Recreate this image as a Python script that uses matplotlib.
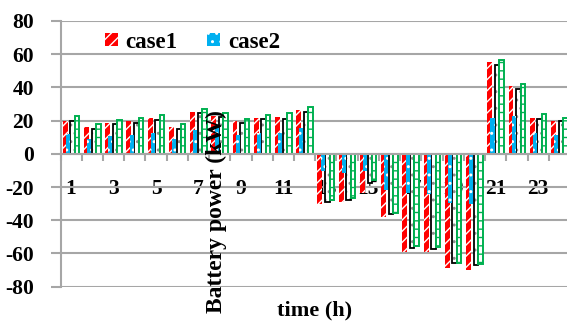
import matplotlib
matplotlib.use("Agg")
import matplotlib.pyplot as plt
import numpy as np

hours = list(range(1, 25))
case1 = [20, 16, 18.5, 19.8, 21.4, 15.9, 25.4, 23, 19.5, 21.7, 22.3, 26.4,
         -30.5, -29, -23.5, -38, -59, -59, -68.5, -70, 55.5, 40.8, 21.7, 19.9]
case2 = [12, 8.7, 10.7, 11.6, 12.6, 8.7, 14.2, 15.7, 11.3, 12.8, 12.8, 15.7,
         -10.6, -11.6, -10.6, -21.6, -23.6, -24.2, -29.6, -30.2, 21.5, 23, 12.7, 11.5]
case3 = [19.5, 15, 18, 18.8, 20.4, 15, 24.4, 22, 18.5, 20.8, 20.8, 25.4,
         -29, -28, -17.5, -36.5, -56.5, -57, -65.5, -67, 53.5, 39.2, 21, 19.5]
case4 = [22.5, 18, 20.4, 21.8, 23.4, 18, 27.3, 24.3, 21, 23.6, 24.3, 28.4,
         -27.5, -26.5, -15.6, -35.5, -55.5, -56, -65.5, -66.5, 56.8, 42, 23.7, 21.7]
xlabels = [str(h) if h % 2 == 1 else "" for h in hours]
yticks = [-80, -60, -40, -20, 0, 20, 40, 60, 80]

plt.rcParams['font.family'] = ['Liberation Serif', 'DejaVu Serif']
plt.rcParams['font.weight'] = 'bold'
plt.rcParams['hatch.linewidth'] = 1.0

W, H = 567, 322
fig = plt.figure(figsize=(W / 100, H / 100), dpi=100)
left, right, top, bottom = 60.5, 570, 21, 286.7
ax = fig.add_axes([left / W, 1 - bottom / H, (right - left) / W, (bottom - top) / H])

x = np.arange(len(hours))
gridc = '#A6A6A6'

ax.bar(x - 0.28, case1, width=0.23, color='#FF0000', edgecolor='white', linewidth=0,
       hatch='///', zorder=3, label='case1')
ax.bar(x - 0.15, case2, width=0.19, color='#00B0F0', edgecolor='white', linewidth=0,
       hatch='..', zorder=4, label='case2')
ax.bar(x + 0.07, case3, width=0.21, color='white', edgecolor='#8C8C8C', linewidth=0,
       hatch='..', zorder=3)
ax.bar(x + 0.07, case3, width=0.21, facecolor='none', edgecolor='black', linewidth=1.3,
       zorder=3)
ax.bar(x + 0.28, case4, width=0.21, color='white', edgecolor='#00B050', linewidth=1.4,
       hatch='--', zorder=3)

ax.set_xlim(-0.5, len(hours) - 0.5)
ax.set_ylim(-80, 80)
ax.set_yticks(yticks)
ax.set_yticklabels([str(v) for v in yticks], fontsize=15.5, fontweight='bold')
ax.yaxis.grid(True, color=gridc, linewidth=1.5, zorder=0)
ax.set_axisbelow(True)

for s in ['top', 'right']:
    ax.spines[s].set_visible(False)
ax.spines['left'].set_color(gridc)
ax.spines['left'].set_linewidth(1.5)
ax.spines['bottom'].set_position(('data', 0))
ax.spines['bottom'].set_color(gridc)
ax.spines['bottom'].set_linewidth(1.5)
ax.spines['bottom'].set_zorder(5)

ax.tick_params(axis='y', length=7, width=1.5, color=gridc, pad=12)
ax.set_xticks(np.arange(len(hours) + 1) - 0.5)
ax.set_xticklabels([])
ax.tick_params(axis='x', which='major', length=5, width=1.5, color=gridc, direction='out')
ax.set_xticks(x, minor=True)
ax.set_xticklabels(xlabels, minor=True, fontsize=15.5, fontweight='bold')
ax.tick_params(axis='x', which='minor', length=0, pad=18)

fig.text(216 / W, 1 - 211.5 / H, 'Battery power (kW)', rotation=90, ha='center', va='center',
         fontsize=17, fontweight='bold')
fig.text(315 / W, 1 - 310 / H, 'time (h)', ha='center', va='center',
         fontsize=16, fontweight='bold')

leg = ax.legend(loc='center left', bbox_to_anchor=(105 / W, 1 - 42 / H),
                bbox_transform=fig.transFigure,
                ncol=2, frameon=False, prop={'size': 16.5, 'weight': 'bold'},
                handlelength=0.55, handleheight=0.5, handletextpad=0.35, columnspacing=1.3,
                borderaxespad=0, borderpad=0)

fig.savefig('out.png', dpi=100)
